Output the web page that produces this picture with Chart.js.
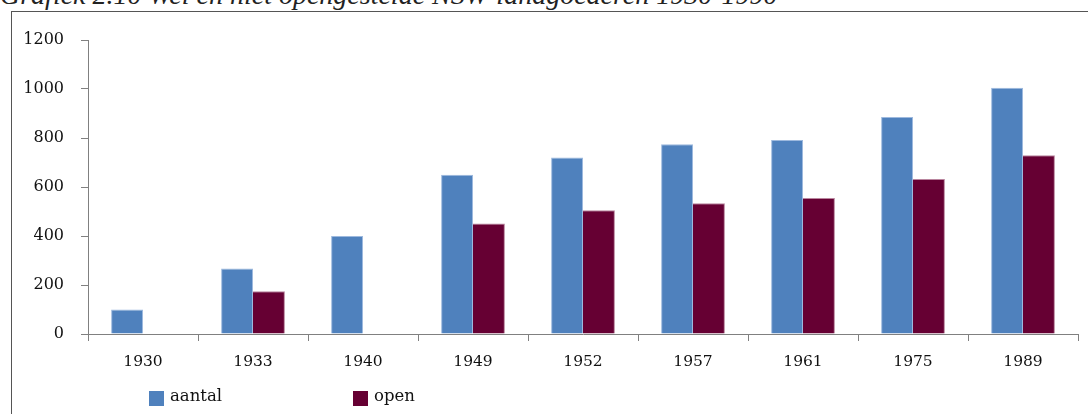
<!DOCTYPE html>
<html>
<head>
<meta charset="utf-8">
<script src="https://cdn.jsdelivr.net/npm/chart.js@4.4.1/dist/chart.umd.min.js"></script>
<style>
  html, body { margin: 0; padding: 0; background: #fff; }
  body { width: 1088px; height: 414px; position: relative; overflow: hidden; }
  #title { position: absolute; left: 0; top: -21px; white-space: nowrap;
           font-family: "Liberation Serif", serif; font-style: italic; font-size: 28px; color: #222; }
  #frame { position: absolute; left: 11px; top: 11px; width: 1100px; height: 420px;
           border-left: 1px solid #555; border-top: 1px solid #555; }
  #wrap { position: absolute; left: 0; top: 0; width: 1088px; height: 414px; }
</style>
</head>
<body>
<div id="title">Grafiek 2.10 Wel en niet opengestelde NSW-landgoederen 1930-1990</div>
<div id="frame"></div>
<div id="wrap"><canvas id="c" width="1088" height="414"></canvas></div>
<script>
const categories = ["1930", "1933", "1940", "1949", "1952", "1957", "1961", "1975", "1989"];
const aantal = [100, 267, 400, 650, 720, 775, 792, 886, 1005];
const open = [null, 175, null, 451, 505, 534, 555, 633, 730];
const seriesNames = ["aantal", "open"];
const yTicks = [0, 200, 400, 600, 800, 1000, 1200];

const legendPlugin = {
  id: 'customLegend',
  afterDraw(chart) {
    const ctx = chart.ctx;
    const xs = [149, 353];
    ctx.save();
    ctx.font = '16.5px "DejaVu Serif", serif';
    ctx.textBaseline = 'alphabetic';
    chart.data.datasets.forEach((ds, i) => {
      ctx.fillStyle = ds.backgroundColor;
      ctx.fillRect(xs[i], 391, 15, 15);
      ctx.fillStyle = '#111';
      ctx.fillText(ds.label, xs[i] + 21, 401);
    });
    ctx.restore();
  }
};

new Chart(document.getElementById('c'), {
  type: 'bar',
  data: {
    labels: categories,
    datasets: [
      { label: seriesNames[0], data: aantal, backgroundColor: '#4F81BD',
        borderColor: '#9DB9DE', borderWidth: {top: 1, right: 1, left: 1, bottom: 0} },
      { label: seriesNames[1], data: open, backgroundColor: '#660033',
        borderColor: '#B9859E', borderWidth: {top: 1, right: 1, left: 0, bottom: 0} }
    ]
  },
  options: {
    responsive: false,
    animation: false,
    devicePixelRatio: 1,
    layout: { padding: { left: 0, right: 10, top: 40, bottom: 40 } },
    datasets: { bar: { categoryPercentage: 0.58, barPercentage: 1.0 } },
    plugins: { legend: { display: false }, tooltip: { enabled: false }, title: { display: false } },
    scales: {
      x: {
        afterFit(s) { s.height = 40; },
        grid: { offset: true, drawOnChartArea: false, drawTicks: true, tickLength: 7, color: '#808080', lineWidth: 1 },
        border: { display: true, color: '#808080', width: 1 },
        ticks: { color: '#111', padding: 12, font: { family: '"DejaVu Serif", serif', size: 15.5 } }
      },
      y: {
        min: 0, max: 1200,
        afterFit(s) { s.width = 88; },
        afterBuildTicks(s) { s.ticks = yTicks.map(v => ({ value: v })); },
        grid: { drawOnChartArea: false, drawTicks: true, tickLength: 7, color: '#808080', lineWidth: 1 },
        border: { display: true, color: '#808080', width: 1 },
        ticks: { color: '#111', padding: 17, callback: v => String(v),
                 font: { family: '"DejaVu Serif", serif', size: 16 } }
      }
    }
  },
  plugins: [legendPlugin]
});
</script>
</body>
</html>
